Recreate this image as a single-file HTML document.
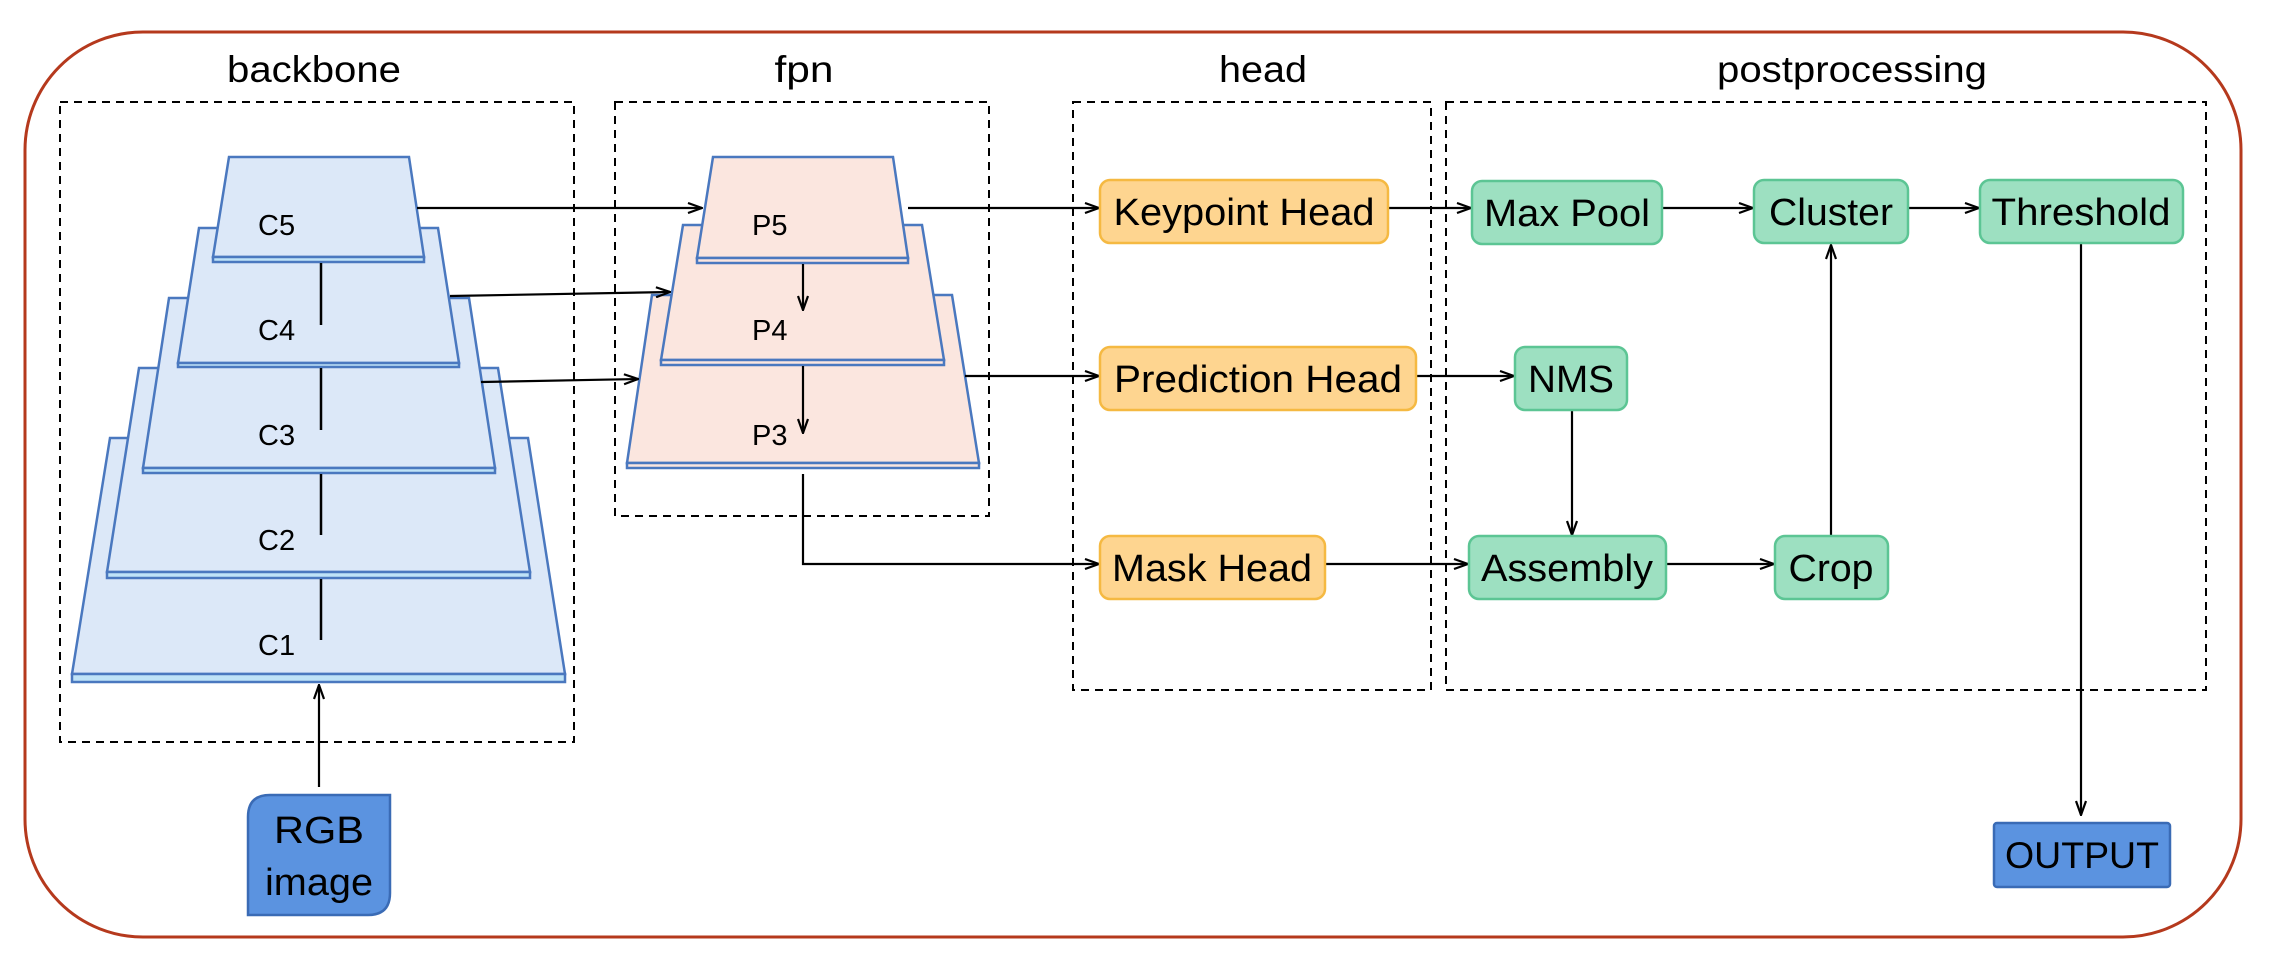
<!DOCTYPE html>
<html><head><meta charset="utf-8"><style>html,body{margin:0;padding:0;background:#fff}svg{display:block}</style></head>
<body>
<svg width="2273" height="968" viewBox="0 0 2273 968" xmlns="http://www.w3.org/2000/svg" font-family="'Liberation Sans', sans-serif">
<defs>
<marker id="a" markerWidth="16" markerHeight="12" refX="15" refY="6" orient="auto" markerUnits="userSpaceOnUse">
<path d="M1,1 L15,6 L1,11" fill="none" stroke="#000" stroke-width="2.2"/>
</marker>
</defs>
<rect x="25" y="32" width="2216" height="905" rx="118" fill="none" stroke="#b5391d" stroke-width="3"/>
<g fill="none" stroke="#000" stroke-width="2" stroke-dasharray="8,6">
<rect x="60" y="102" width="514" height="640"/>
<rect x="615" y="102" width="374" height="414"/>
<rect x="1073" y="102" width="358" height="588"/>
<rect x="1446" y="102" width="760" height="588"/>
</g>
<g font-size="37" text-anchor="middle" fill="#000" lengthAdjust="spacingAndGlyphs">
<text x="314" y="82" textLength="174" lengthAdjust="spacingAndGlyphs">backbone</text>
<text x="804" y="82" textLength="59" lengthAdjust="spacingAndGlyphs">fpn</text>
<text x="1263" y="82" textLength="88" lengthAdjust="spacingAndGlyphs">head</text>
<text x="1852" y="82" textLength="270" lengthAdjust="spacingAndGlyphs">postprocessing</text>
</g>
<!-- backbone trapezoids -->
<g stroke="#4a78bf" stroke-width="2.5">
<polygon points="110,438 528,438 565,674 72,674" fill="#dce8f8"/><rect x="72" y="674" width="493" height="8" fill="#bfe3f7"/>
<polygon points="139,368 498,368 530,572 107,572" fill="#dce8f8"/><rect x="107" y="572" width="423" height="6" fill="#bfe3f7"/>
<polygon points="169,298 469,298 495,468 143,468" fill="#dce8f8"/><rect x="143" y="468" width="352" height="5" fill="#bfe3f7"/>
<polygon points="199,228 438,228 459,363 178,363" fill="#dce8f8"/><rect x="178" y="363" width="281" height="4" fill="#bfe3f7"/>
<polygon points="229,157 409,157 424,257 213,257" fill="#dce8f8"/><rect x="213" y="257" width="211" height="5" fill="#bfe3f7"/>
</g>
<g stroke="#000" stroke-width="2.5">
<line x1="321" y1="263" x2="321" y2="325"/>
<line x1="321" y1="368" x2="321" y2="430"/>
<line x1="321" y1="474" x2="321" y2="535"/>
<line x1="321" y1="579" x2="321" y2="640"/>
</g>
<g font-size="29" fill="#000">
<text x="258" y="235">C5</text>
<text x="258" y="340">C4</text>
<text x="258" y="445">C3</text>
<text x="258" y="550">C2</text>
<text x="258" y="655">C1</text>
</g>
<!-- fpn -->
<g stroke="#4a78bf" stroke-width="2.5">
<polygon points="652,295 952,295 979,463 627,463" fill="#fbe6df"/><rect x="627" y="463" width="352" height="5" fill="#fbe6df"/>
<polygon points="683,225 922,225 944,360 661,360" fill="#fbe6df"/><rect x="661" y="360" width="283" height="5" fill="#fbe6df"/>
<polygon points="713,157 893,157 908,258 697,258" fill="#fbe6df"/><rect x="697" y="258" width="211" height="5" fill="#fbe6df"/>
</g>
<g font-size="29" fill="#000">
<text x="752" y="235">P5</text>
<text x="752" y="340">P4</text>
<text x="752" y="445">P3</text>
</g>
<!-- connectors -->
<g stroke="#000" stroke-width="2.2" fill="none" marker-end="url(#a)">
<line x1="417" y1="208" x2="702" y2="208"/>
<line x1="450" y1="296" x2="670" y2="292"/>
<line x1="481" y1="382" x2="638" y2="379"/>
<line x1="803" y1="264" x2="803" y2="310"/>
<line x1="803" y1="366" x2="803" y2="433"/>
<line x1="908" y1="208" x2="1099" y2="208"/>
<line x1="965" y1="376" x2="1099" y2="376"/>
<polyline points="803,474 803,564 1099,564"/>
<line x1="319" y1="787" x2="319" y2="685"/>
<line x1="1388" y1="208" x2="1471" y2="208"/>
<line x1="1416" y1="376" x2="1514" y2="376"/>
<line x1="1325" y1="564" x2="1468" y2="564"/>
<line x1="1662" y1="208" x2="1753" y2="208"/>
<line x1="1908" y1="208" x2="1979" y2="208"/>
<line x1="1572" y1="410" x2="1572" y2="535"/>
<line x1="1666" y1="564" x2="1774" y2="564"/>
<line x1="1831" y1="536" x2="1831" y2="245"/>
<line x1="2081" y1="243" x2="2081" y2="815"/>
</g>
<!-- head boxes -->
<g stroke="#f5b942" stroke-width="2.5" fill="#fed590">
<rect x="1100" y="180" width="288" height="63" rx="10"/>
<rect x="1100" y="347" width="316" height="63" rx="10"/>
<rect x="1100" y="536" width="225" height="63" rx="10"/>
</g>
<g stroke="#5cc594" stroke-width="2.5" fill="#9de0c1">
<rect x="1472" y="181" width="190" height="63" rx="10"/>
<rect x="1754" y="180" width="154" height="63" rx="10"/>
<rect x="1980" y="180" width="203" height="63" rx="10"/>
<rect x="1515" y="347" width="112" height="63" rx="10"/>
<rect x="1469" y="536" width="197" height="63" rx="10"/>
<rect x="1775" y="536" width="113" height="63" rx="10"/>
</g>
<g font-size="38" text-anchor="middle" fill="#000">
<text x="1244" y="225" textLength="261" lengthAdjust="spacingAndGlyphs">Keypoint Head</text>
<text x="1258" y="392" textLength="288" lengthAdjust="spacingAndGlyphs">Prediction Head</text>
<text x="1212" y="581" textLength="200" lengthAdjust="spacingAndGlyphs">Mask Head</text>
<text x="1567" y="226" textLength="166" lengthAdjust="spacingAndGlyphs">Max Pool</text>
<text x="1831" y="225" textLength="124" lengthAdjust="spacingAndGlyphs">Cluster</text>
<text x="2081" y="225" textLength="179" lengthAdjust="spacingAndGlyphs">Threshold</text>
<text x="1571" y="392" textLength="86" lengthAdjust="spacingAndGlyphs">NMS</text>
<text x="1567" y="581" textLength="172" lengthAdjust="spacingAndGlyphs">Assembly</text>
<text x="1831" y="581" textLength="85" lengthAdjust="spacingAndGlyphs">Crop</text>
</g>
<!-- RGB image -->
<path d="M270,795 L390,795 L390,893 Q390,915 368,915 L248,915 L248,817 Q248,795 270,795 Z" fill="#5b93e0" stroke="#3a6bb5" stroke-width="2.5"/>
<text x="319" y="843" font-size="38" text-anchor="middle" textLength="90" lengthAdjust="spacingAndGlyphs">RGB</text>
<text x="319" y="895" font-size="38" text-anchor="middle" textLength="108" lengthAdjust="spacingAndGlyphs">image</text>
<rect x="1994" y="823" width="176" height="64" rx="3" fill="#5b93e0" stroke="#3a6bb5" stroke-width="2.5"/>
<text x="2082" y="868" font-size="37" text-anchor="middle" textLength="154" lengthAdjust="spacingAndGlyphs">OUTPUT</text>
</svg>
</body></html>
